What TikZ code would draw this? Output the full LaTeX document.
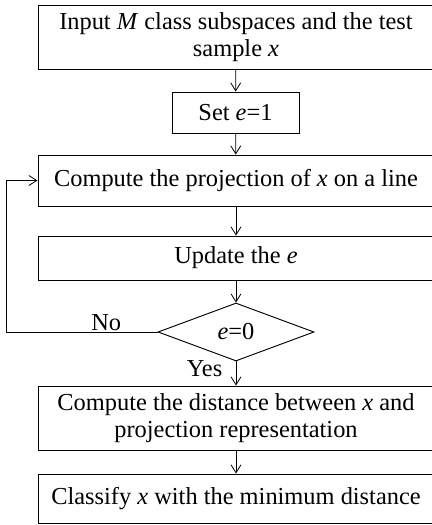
\documentclass[tikz,border=0pt]{standalone}
\usepackage{fontspec}
\setmainfont{Liberation Serif}
\usepackage{tikz}
\usetikzlibrary{arrows.meta, shapes.geometric, positioning}

\begin{document}
\begin{tikzpicture}[x=0.75pt, y=-0.75pt,
        box/.style={rectangle, draw, line width=0.7pt, minimum width=297pt, align=center, inner sep=0pt},
        test/.style={diamond, draw, line width=0.7pt, minimum width=117pt, minimum height=43.5pt, aspect=2.7, inner sep=0pt},
        edge/.style={line width=0.6pt, -{Straight Barb[length=6pt, width=7.5pt]}},
        font=\fontsize{18.3}{20.5}\selectfont
    ]
    \useasboundingbox (0,0) rectangle (432,525);
    \node[box, minimum height=48pt] (input) at (236,37) {Input \textit{M} class subspaces and the test\\sample \textit{x}};
    \node[box, minimum width=95.25pt, minimum height=30.75pt] (init) at (235.5,112.5) {Set \textit{e}=1};
    \node[box, minimum height=38.25pt] (proj) at (236,180.5) {Compute the projection of \textit{x} on a line};
    \node[box, minimum height=33pt] (update) at (236,258) {Update the \textit{e}};
    \node[test] (check) at (236,332) {\textit{e}=0};
    \node[box, minimum height=48pt] (dist) at (236,418) {Compute the distance between \textit{x} and\\projection representation};
    \node[box, minimum height=36.75pt] (cls) at (236,498.5) {Classify \textit{x} with the minimum distance};

    \draw[edge] (input) -- (init);
    \draw[edge] (init) -- (proj);
    \draw[edge] (proj) -- (update);
    \draw[edge] (update) -- (check);
    \draw[edge] (check) -- node[left, pos=0.3, inner sep=10pt] (yes) {Yes} (dist);
    \draw[edge] (dist) -- (cls);

    \draw[edge] (check.west) -- node[above, pos=0.34, inner sep=1pt] (no) {No} ++(-151,0) |- (proj.west);
\end{tikzpicture}
\end{document}
